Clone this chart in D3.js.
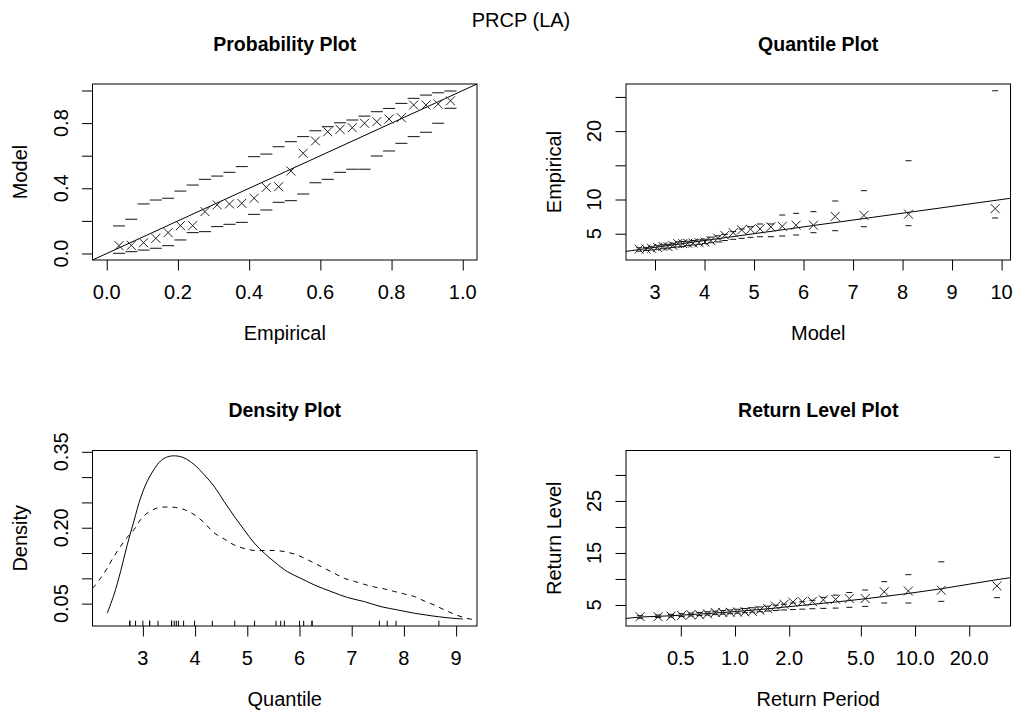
<!DOCTYPE html>
<html>
<head>
<meta charset="utf-8">
<script src="https://cdn.jsdelivr.net/npm/d3@7"></script>
<style>
  body { margin: 0; background: #fff; }
  text { font-family: "Liberation Sans", Arial, sans-serif; fill: #000; }
</style>
</head>
<body>
<div id="chart"></div>
<script>
// ---- data ----
// sorted sample (28 values), used for the rug, quantile and return level plots
var precip = [2.75, 2.75, 2.86, 3.0, 3.13, 3.13, 3.29, 3.55, 3.55, 3.6, 3.64, 3.68, 3.78, 3.99,
  4.33, 4.76, 5.14, 5.55, 5.64, 5.71, 6.0, 6.08, 6.24, 6.24, 7.53, 7.68, 7.85, 8.67];

// probability plot
var empProb = [0.0345, 0.069, 0.1034, 0.1379, 0.1724, 0.2069, 0.2414, 0.2759, 0.3103, 0.3448,
  0.3793, 0.4138, 0.4483, 0.4828, 0.5172, 0.5517, 0.5862, 0.6207, 0.6552, 0.6897, 0.7241,
  0.7586, 0.7931, 0.8276, 0.8621, 0.8966, 0.931, 0.9655];
var ppModel = [0.048, 0.05, 0.066, 0.093, 0.128, 0.171, 0.171, 0.257, 0.298, 0.304, 0.308, 0.339,
  0.406, 0.41, 0.506, 0.615, 0.69, 0.747, 0.762, 0.772, 0.799, 0.809, 0.825, 0.833, 0.911,
  0.911, 0.917, 0.937];
var ppUpper = [0.169, 0.21, 0.304, 0.328, 0.339, 0.383, 0.42, 0.455, 0.475, 0.498, 0.533, 0.594,
  0.61, 0.655, 0.686, 0.717, 0.753, 0.778, 0.802, 0.819, 0.843, 0.87, 0.89, 0.921, 0.952,
  0.972, 0.986, 0.997];
var ppLower = [0.001, 0.011, 0.021, 0.032, 0.048, 0.083, 0.128, 0.134, 0.165, 0.179, 0.191, 0.24,
  0.267, 0.314, 0.324, 0.365, 0.434, 0.455, 0.498, 0.517, 0.517, 0.598, 0.629, 0.676, 0.717,
  0.744, 0.799, 0.891];

// quantile plot
var qqModel = [2.68, 2.82, 2.93, 3.05, 3.16, 3.26, 3.36, 3.46, 3.56, 3.66, 3.77, 3.89, 4.01, 4.13,
  4.27, 4.41, 4.58, 4.75, 4.93, 5.12, 5.34, 5.57, 5.85, 6.2, 6.64, 7.22, 8.12, 9.87];
var qqLower = [2.45, 2.55, 2.62, 2.72, 2.8, 2.88, 2.98, 3.06, 3.15, 3.25, 3.35, 3.45, 3.55, 3.68,
  3.8, 4.0, 4.18, 4.32, 4.47, 4.56, 4.56, 4.66, 4.81, 5.15, 5.44, 6.02, 6.17, 7.3];
var qqUpper = [2.95, 3.0, 3.1, 3.3, 3.4, 3.45, 3.6, 3.8, 3.85, 3.9, 4.0, 4.1, 4.2, 4.5, 4.7, 4.9,
  5.3, 5.69, 6.02, 6.42, 6.42, 7.73, 7.98, 8.22, 9.78, 11.29, 15.67, 25.9];

// density plot: fitted model (solid) and kernel estimate (dashed)
var modelDensX = [2.316, 2.444, 2.572, 2.70, 2.828, 2.956, 3.084, 3.212, 3.34, 3.468, 3.628, 3.788,
  3.98, 4.172, 4.363, 4.555, 4.747, 4.939, 5.131, 5.323, 5.515, 5.771, 6.027, 6.283, 6.603,
  6.923, 7.243, 7.563, 7.883, 8.203, 8.523, 8.843, 9.131];
var modelDensY = [0.031, 0.067, 0.113, 0.166, 0.213, 0.259, 0.292, 0.315, 0.332, 0.340, 0.342,
  0.338, 0.325, 0.305, 0.282, 0.252, 0.223, 0.196, 0.170, 0.150, 0.133, 0.113, 0.100, 0.087,
  0.074, 0.062, 0.054, 0.044, 0.0375, 0.031, 0.026, 0.022, 0.0196];
var kdeX = [2.035, 2.188, 2.316, 2.444, 2.572, 2.70, 2.828, 2.956, 3.084, 3.276, 3.468, 3.628,
  3.788, 3.98, 4.172, 4.363, 4.555, 4.747, 4.939, 5.131, 5.323, 5.515, 5.707, 5.899, 6.091,
  6.283, 6.475, 6.667, 6.859, 7.051, 7.243, 7.435, 7.627, 7.819, 8.011, 8.203, 8.395, 8.587,
  8.779, 8.971, 9.163, 9.40];
var kdeY = [0.08, 0.100, 0.120, 0.143, 0.163, 0.181, 0.196, 0.216, 0.229, 0.239, 0.241, 0.240,
  0.236, 0.226, 0.210, 0.190, 0.178, 0.166, 0.159, 0.155, 0.155, 0.155, 0.153, 0.148, 0.140,
  0.130, 0.120, 0.110, 0.100, 0.094, 0.088, 0.083, 0.079, 0.074, 0.069, 0.064, 0.055, 0.047,
  0.0375, 0.029, 0.022, 0.017];

// return level plot
var rlPeriod = [0.297, 0.374, 0.441, 0.505, 0.569, 0.635, 0.704, 0.777, 0.855, 0.939, 1.032, 1.134,
  1.247, 1.374, 1.517, 1.681, 1.871, 2.097, 2.364, 2.689, 3.097, 3.62, 4.314, 5.284, 6.745,
  9.181, 13.99, 28.5];
var rlLower = [2.45, 2.58, 2.68, 2.78, 2.88, 2.97, 3.06, 3.15, 3.24, 3.33, 3.42, 3.52, 3.62, 3.72,
  3.83, 3.94, 4.05, 4.12, 4.2, 4.28, 4.35, 4.4, 4.55, 4.73, 5.38, 5.38, 5.7, 6.4];
var rlUpper = [2.95, 3.08, 3.2, 3.32, 3.45, 3.57, 3.69, 3.8, 3.93, 4.05, 4.18, 4.32, 4.47, 4.62,
  4.78, 4.95, 5.15, 5.38, 5.62, 5.9, 6.46, 6.9, 7.4, 7.88, 9.48, 10.83, 13.3, 33.4];
var rlCurvePeriod = [0.248, 0.297, 0.374, 0.441, 0.505, 0.569, 0.635, 0.704, 0.777, 0.855, 0.939,
  1.032, 1.134, 1.247, 1.374, 1.517, 1.681, 1.871, 2.097, 2.364, 2.689, 3.097, 3.62, 4.314,
  5.284, 6.745, 9.181, 13.99, 28.5, 33.9];
var rlCurveLevel = [2.42, 2.68, 2.82, 2.93, 3.05, 3.16, 3.26, 3.36, 3.46, 3.56, 3.66, 3.77, 3.89,
  4.01, 4.13, 4.27, 4.41, 4.58, 4.75, 4.93, 5.12, 5.34, 5.57, 5.85, 6.2, 6.64, 7.22, 8.12, 9.87,
  10.25];

// axis ticks and the ones that carry a label
var ppTicks = [0, 0.2, 0.4, 0.6, 0.8, 1.0];
var ppYLabels = [0, 0.4, 0.8];
var qqXTicks = [3, 4, 5, 6, 7, 8, 9, 10];
var qqYTicks = [5, 10, 15, 20, 25];
var qqYLabels = [5, 10, 20];
var densXTicks = [3, 4, 5, 6, 7, 8, 9];
var densYTicks = [0.05, 0.10, 0.15, 0.20, 0.25, 0.30, 0.35];
var densYLabels = [0.05, 0.20, 0.35];
var rlXTicks = [0.5, 1, 2, 5, 10, 20];
var rlYTicks = [5, 10, 15, 20, 25, 30];
var rlYLabels = [5, 15, 25];

// ---- layout ----
var svgWidth = 1015, svgHeight = 710;
var fontSize = 20;
var tickLen = 10.5;

var svg = d3.select("#chart").append("svg")
  .attr("width", svgWidth)
  .attr("height", svgHeight);

svg.append("text")
  .attr("x", 521).attr("y", 20)
  .attr("dy", "0.35em")
  .attr("text-anchor", "middle")
  .style("font-size", "20px")
  .text("PRCP (LA)");

var clipId = 0;

// draw the frame, axes and labels of one panel; returns a clipped group for the marks
function makePanel(p) {
  var g = svg.append("g");
  var x = p.x, y = p.y;
  var left = x.range()[0], right = x.range()[1];
  var bottom = y.range()[0], top = y.range()[1];

  var id = "clip" + (clipId++);
  svg.append("clipPath").attr("id", id)
    .append("rect")
    .attr("x", left).attr("y", top)
    .attr("width", right - left).attr("height", bottom - top);

  var xAxis = d3.axisBottom(x).tickValues(p.xTicks).tickSize(tickLen).tickSizeOuter(0).tickFormat("");
  var yAxis = d3.axisLeft(y).tickValues(p.yTicks).tickSize(tickLen).tickSizeOuter(0).tickFormat("");

  var gx = g.append("g").attr("transform", "translate(0," + bottom + ")").call(xAxis);
  var gy = g.append("g").attr("transform", "translate(" + left + ",0)").call(yAxis);
  gx.select(".domain").remove();
  gy.select(".domain").remove();
  g.selectAll(".tick line").attr("stroke", "#000");

  g.selectAll(null).data(p.xTicks).enter().append("text")
    .attr("x", d => x(d))
    .attr("y", bottom + 32)
    .attr("dy", "0.35em")
    .attr("text-anchor", "middle")
    .style("font-size", fontSize + "px")
    .text(p.xFormat);

  g.selectAll(null).data(p.yLabels).enter().append("text")
    .attr("transform", d => "translate(" + (left - 32) + "," + y(d) + ") rotate(-90)")
    .attr("dy", "0.35em")
    .attr("text-anchor", "middle")
    .style("font-size", fontSize + "px")
    .text(p.yFormat);

  g.append("text")
    .attr("x", (left + right) / 2)
    .attr("y", bottom + 72.5)
    .attr("dy", "0.35em")
    .attr("text-anchor", "middle")
    .style("font-size", fontSize + "px")
    .text(p.xlab);

  g.append("text")
    .attr("transform", "translate(" + (left - 72.5) + "," + ((top + bottom) / 2) + ") rotate(-90)")
    .attr("dy", "0.35em")
    .attr("text-anchor", "middle")
    .style("font-size", fontSize + "px")
    .text(p.ylab);

  g.append("text")
    .attr("x", (left + right) / 2)
    .attr("y", top - 40)
    .attr("dy", "0.35em")
    .attr("text-anchor", "middle")
    .style("font-size", "19.5px")
    .style("font-weight", "bold")
    .text(p.title);

  g.append("rect")
    .attr("x", left).attr("y", top)
    .attr("width", right - left).attr("height", bottom - top)
    .attr("fill", "none")
    .attr("stroke", "#000");

  return g.append("g").attr("clip-path", "url(#" + id + ")");
}

var cross = "M-4.5,-4.5L4.5,4.5M-4.5,4.5L4.5,-4.5";

function drawCrosses(g, xs, ys, x, y) {
  g.selectAll(null).data(xs).enter().append("path")
    .attr("d", cross)
    .attr("transform", (d, i) => "translate(" + x(d) + "," + y(ys[i]) + ")")
    .attr("fill", "none")
    .attr("stroke", "#222")
    .attr("stroke-width", 1);
}

function drawDashes(g, xs, ys, x, y, w) {
  g.selectAll(null).data(xs).enter().append("line")
    .attr("x1", d => x(d) - w / 2)
    .attr("x2", d => x(d) + w / 2)
    .attr("y1", (d, i) => y(ys[i]))
    .attr("y2", (d, i) => y(ys[i]))
    .attr("stroke", "#111")
    .attr("stroke-width", 1);
}

var fmt1 = d3.format(".1f");

// ---- Probability Plot ----
var x1 = d3.scaleLinear().domain([-0.04, 1.04]).range([92.5, 477]);
var y1 = d3.scaleLinear().domain([-0.04, 1.04]).range([260, 84]);
var p1 = makePanel({
  x: x1, y: y1, xTicks: ppTicks, yTicks: ppTicks, yLabels: ppYLabels,
  xFormat: fmt1, yFormat: fmt1,
  title: "Probability Plot", xlab: "Empirical", ylab: "Model"
});
p1.append("line")
  .attr("x1", x1(-0.04)).attr("y1", y1(-0.04))
  .attr("x2", x1(1.04)).attr("y2", y1(1.04))
  .attr("stroke", "#000");
drawDashes(p1, empProb, ppUpper, x1, y1, 12);
drawDashes(p1, empProb, ppLower, x1, y1, 12);
drawCrosses(p1, empProb, ppModel, x1, y1);

// ---- Quantile Plot ----
var x2 = d3.scaleLinear().domain([2.414, 10.18]).range([626, 1010.5]);
var y2 = d3.scaleLinear().domain([1.155, 26.89]).range([260, 84]);
var p2 = makePanel({
  x: x2, y: y2, xTicks: qqXTicks, yTicks: qqYTicks, yLabels: qqYLabels,
  xFormat: d3.format("d"), yFormat: d3.format("d"),
  title: "Quantile Plot", xlab: "Model", ylab: "Empirical"
});
p2.append("line")
  .attr("x1", x2(2.414)).attr("y1", y2(2.414))
  .attr("x2", x2(10.18)).attr("y2", y2(10.18))
  .attr("stroke", "#000");
drawDashes(p2, qqModel, qqUpper, x2, y2, 6);
drawDashes(p2, qqModel, qqLower, x2, y2, 6);
drawCrosses(p2, qqModel, precip, x2, y2);

// ---- Density Plot ----
var x3 = d3.scaleLinear().domain([2.035, 9.40]).range([92.5, 477]);
var y3 = d3.scaleLinear().domain([0.0058, 0.3526]).range([626, 450.5]);
var p3 = makePanel({
  x: x3, y: y3, xTicks: densXTicks, yTicks: densYTicks, yLabels: densYLabels,
  xFormat: d3.format("d"), yFormat: d3.format(".2f"),
  title: "Density Plot", xlab: "Quantile", ylab: "Density"
});
var densLine = d3.line().curve(d3.curveCatmullRom.alpha(0.5))
  .x(d => x3(d[0])).y(d => y3(d[1]));
p3.append("path")
  .datum(d3.zip(modelDensX, modelDensY))
  .attr("d", densLine)
  .attr("fill", "none").attr("stroke", "#000");
p3.append("path")
  .datum(d3.zip(kdeX, kdeY))
  .attr("d", densLine)
  .attr("fill", "none").attr("stroke", "#000")
  .attr("stroke-dasharray", "5,5");
p3.selectAll(null).data(precip).enter().append("line")
  .attr("x1", d => x3(d)).attr("x2", d => x3(d))
  .attr("y1", 626).attr("y2", 626 - 5.3)
  .attr("stroke", "#000");

// ---- Return Level Plot ----
var x4 = d3.scaleLog().domain([0.248, 33.9]).range([626, 1010.5]);
var y4 = d3.scaleLinear().domain([0.96, 34.7]).range([626, 450.5]);
var p4 = makePanel({
  x: x4, y: y4, xTicks: rlXTicks, yTicks: rlYTicks, yLabels: rlYLabels,
  xFormat: fmt1, yFormat: d3.format("d"),
  title: "Return Level Plot", xlab: "Return Period", ylab: "Return Level"
});
p4.append("path")
  .datum(d3.zip(rlCurvePeriod, rlCurveLevel))
  .attr("d", d3.line().curve(d3.curveMonotoneX).x(d => x4(d[0])).y(d => y4(d[1])))
  .attr("fill", "none").attr("stroke", "#000");
drawDashes(p4, rlPeriod, rlUpper, x4, y4, 6);
drawDashes(p4, rlPeriod, rlLower, x4, y4, 6);
drawCrosses(p4, rlPeriod, precip, x4, y4);
</script>
</body>
</html>
